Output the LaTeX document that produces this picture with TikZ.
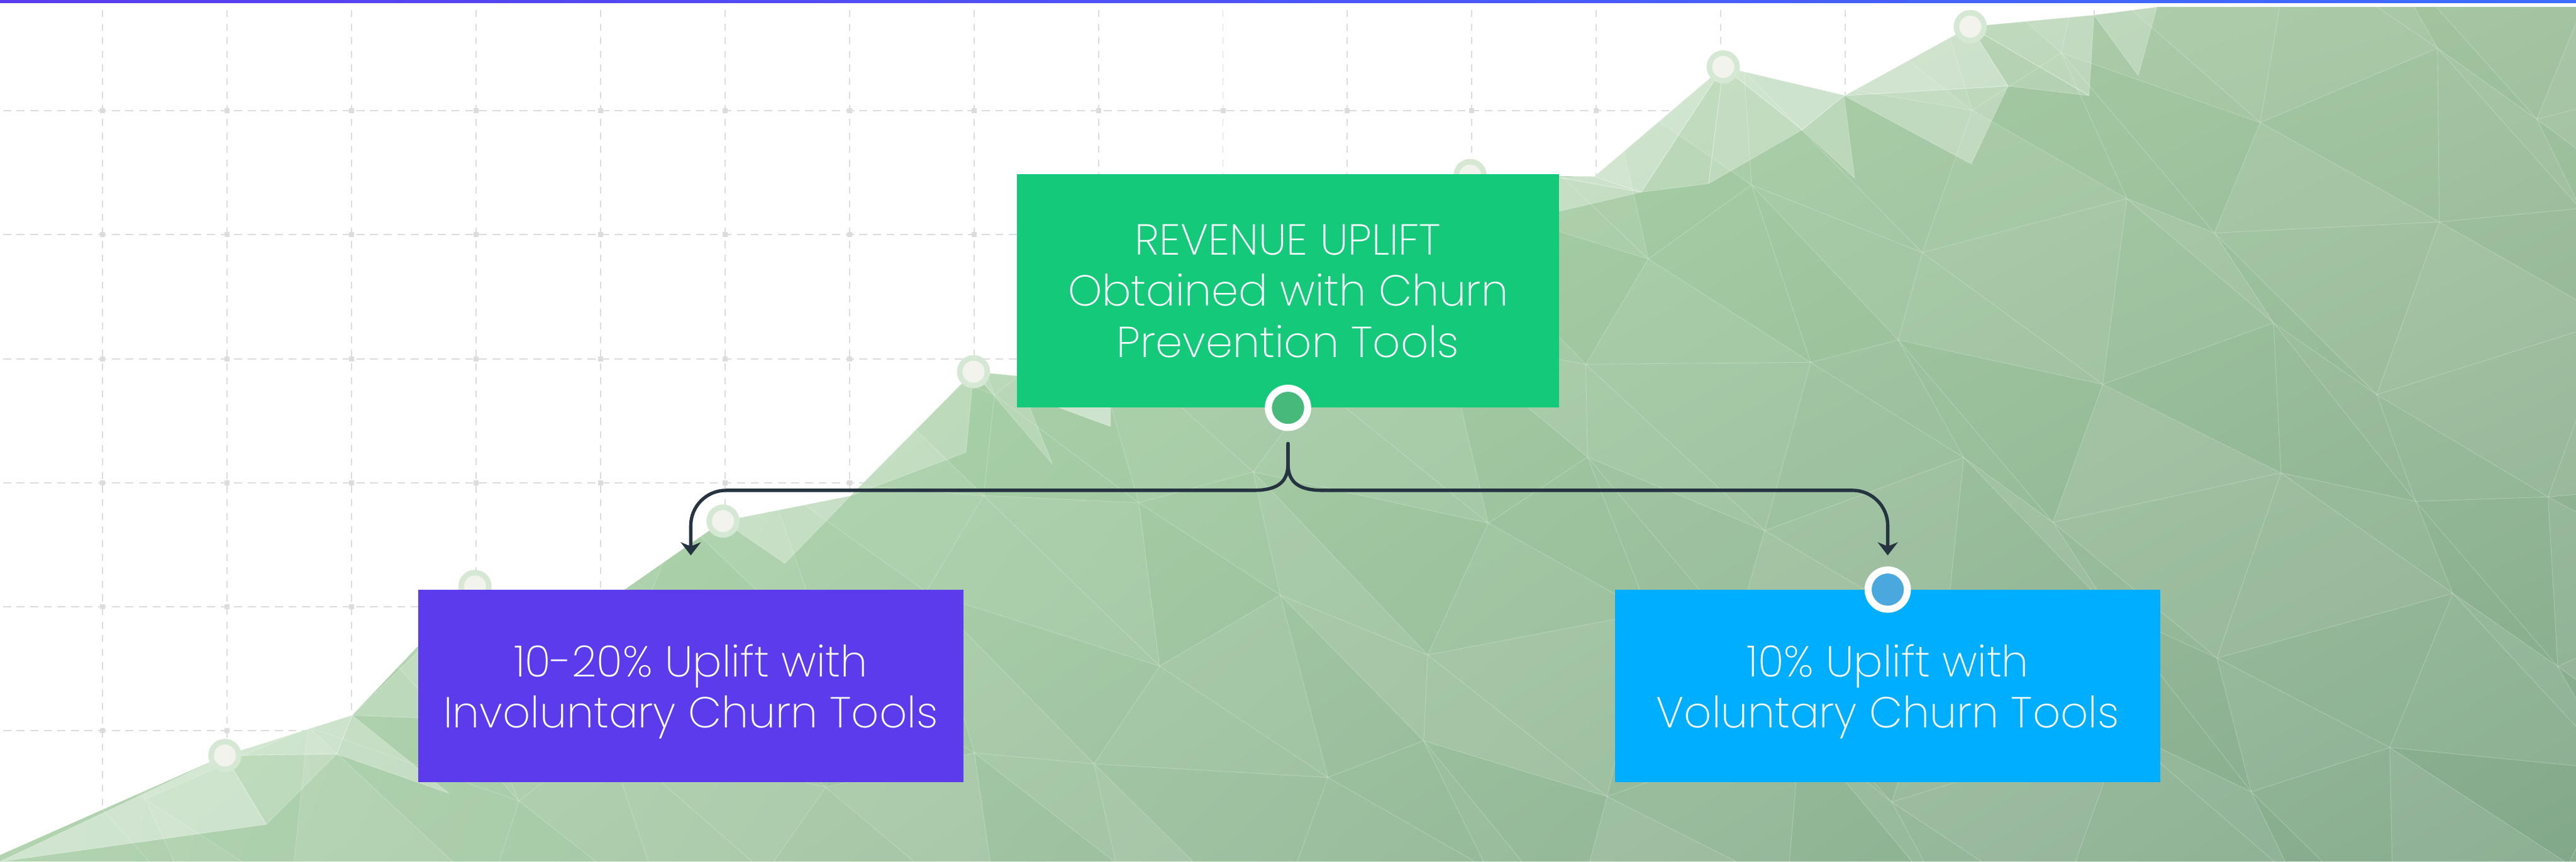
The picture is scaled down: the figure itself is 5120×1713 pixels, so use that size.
\documentclass[tikz,border=0pt]{standalone}
\usepackage{fontspec}
\setmainfont{Poppins}[UprightFont=* ExtraLight]
\usetikzlibrary{arrows.meta,shadings}

\definecolor{gridgray}{HTML}{DCDCDC}
\definecolor{upliftgreen}{HTML}{15C97B}
\definecolor{involpurple}{HTML}{5B3BEC}
\definecolor{volblue}{HTML}{00AEFF}
\definecolor{linknavy}{HTML}{263340}
\definecolor{dotgreen}{HTML}{47B97A}
\definecolor{dotblue}{HTML}{4AA8DE}
\definecolor{peakring}{HTML}{D5E8D3}
\definecolor{peakfill}{HTML}{F3F3EE}
\definecolor{barleft}{HTML}{5A3DEB}
\definecolor{barright}{HTML}{3D6DFF}
\definecolor{hillUL}{RGB}{180,230,174}
\definecolor{hillUR}{RGB}{160,194,158}
\definecolor{hillLL}{RGB}{178,212,176}
\definecolor{hillLR}{RGB}{130,168,138}

% jittered mesh points for the hill facets
\newcommand\meshx[2]{320*#1+80*sin(137*#1+251*#2)}
\newcommand\meshy[2]{270*#2-100+75*cos(199*#1+83*#2)}
\newcommand\hilloutline{(0,1700) -- (447,1502) -- (700,1422) -- (944,1166) -- (1130,1250)
	-- (1437,1036) -- (1690,986) -- (1935,739) -- (2150,760) -- (2430,560)
	-- (2650,600) -- (2922,349) -- (3169,351) -- (3425,133) -- (3667,190)
	-- (3916,53) -- (4162,30) -- (4287,14) -- (5120,14) -- (5120,1713)
	-- (0,1713) -- cycle}

\tikzset{gridline/.style={gridgray, line width=.7pt},
    toolbox/.style={inner sep=0pt, text=white, align=center, text depth=0pt,
        minimum width=10.83cm, minimum height=3.82cm,
        font=\fontsize{24.5}{29}\selectfont},
    pindot/.style={circle, draw=white, line width=.14cm, minimum size=.78cm, inner sep=0pt},
    peak/.style={circle, draw=peakring, fill=peakfill, line width=.11cm, minimum size=.55cm, inner sep=0pt},
    facet/.style={white, draw opacity=.15, line width=.3pt, line join=round},
    link/.style={linknavy, line width=1.9pt, line cap=round,
        -{Stealth[length=.26cm,width=.4cm,inset=.08cm]}},
    }

\begin{document}
\begin{tikzpicture}[x=0.01cm,y=-0.01cm]
	\useasboundingbox (0,0) rectangle (5120,1713);
	\fill[white] (0,0) rectangle (5120,1713);

	% dashed chart grid
	\foreach \k in {0,...,19}
		\draw[gridline, dash pattern=on .14cm off .13cm] (204+247.4*\k,20) -- (204+247.4*\k,1713);
	\foreach \k in {0,...,6}
		\draw[gridline, dash pattern=on .16cm off .11cm] (6,220+246.6*\k) -- (5120,220+246.6*\k);
	\foreach \i in {0,...,19}
		\foreach \k in {0,...,6}
			\fill[gridgray] (199+247.4*\i,215+246.6*\k) rectangle ++(10,10);

	% low-poly hill
	\shade[shading=bilinear interpolation, upper left=hillUL, upper right=hillUR,
		lower left=hillLL, lower right=hillLR] \hilloutline;
	\begin{scope}
		\clip \hilloutline;
		\foreach \i in {-1,...,16}
			\foreach \k in {0,...,7} {
				\pgfmathsetmacro\toneA{.05+.05*sin(311*\i+173*\k)}
				\pgfmathsetmacro\toneB{.05+.05*cos(227*\i+97*\k)}
				\filldraw[facet, fill opacity=\toneA]
					({\meshx{\i}{\k}},{\meshy{\i}{\k}}) -- ({\meshx{(\i+1)}{\k}},{\meshy{(\i+1)}{\k}})
					-- ({\meshx{(\i+1)}{(\k+1)}},{\meshy{(\i+1)}{(\k+1)}}) -- cycle;
				\filldraw[facet, fill opacity=\toneB]
					({\meshx{\i}{\k}},{\meshy{\i}{\k}}) -- ({\meshx{(\i+1)}{(\k+1)}},{\meshy{(\i+1)}{(\k+1)}})
					-- ({\meshx{\i}{(\k+1)}},{\meshy{\i}{(\k+1)}}) -- cycle;
			}
	\end{scope}
	\foreach \ax/\ay/\bx/\by/\cx/\cy/\tone in {
		0/1713/447/1502/529/1639/.40, 447/1502/700/1422/669/1499/.40,
		447/1502/669/1499/529/1639/.20, 669/1499/700/1422/892/1577/.30,
		700/1422/835/1291/832/1427/.20, 1437/1036/1690/986/1560/1120/.30,
		1690/986/1935/739/1920/899/.25, 1935/739/2021/747/2092/923/.20,
		2104/810/2207/848/2207/810/.45, 3099/353/3169/351/3262/382/.40,
		3099/353/3262/382/3099/420/.30, 3169/351/3425/133/3262/382/.45,
		3425/133/3396/365/3262/382/.25, 3425/133/3665/190/3582/258/.45,
		3425/133/3582/258/3396/365/.30, 3665/190/3916/53/3991/171/.45,
		3665/190/3991/171/3918/326/.30, 3582/258/3665/190/3686/354/.25,
		3916/53/4162/30/4152/190/.30, 3916/53/4152/190/3991/171/.20,
		4162/30/4287/14/4250/150/.25}
		\filldraw[facet, fill opacity=\tone, draw opacity=.3]
			(\ax,\ay) -- (\bx,\by) -- (\cx,\cy) -- cycle;

	\foreach \x/\y [count=\i] in {447/1502, 944/1166, 1437/1036, 1935/739, 2922/349, 3425/133, 3916/53}
		\node[peak] (peak\i) at (\x,\y) {};

	% boxes
	\node[toolbox, fill=upliftgreen, minimum width=10.78cm, minimum height=4.64cm] (revenue) at (2560,578)
		{REVENUE UPLIFT\\Obtained with Churn\\Prevention Tools};
	\node[toolbox, fill=involpurple] (involuntary) at (1373,1364) {10-20\% Uplift with\\Involuntary Churn Tools};
	\node[toolbox, fill=volblue] (voluntary) at (3752,1364) {10\% Uplift with\\Voluntary Churn Tools};

	\node[pindot, fill=dotgreen] (revdot) at (revenue.south) {};
	\node[pindot, fill=dotblue] (voldot) at (voluntary.north) {};
	\coordinate (invtip) at ([yshift=.68cm]involuntary.north);
	\coordinate (voltip) at ([yshift=.68cm]voluntary.north);

	\draw[link] ([yshift=-.25cm]revdot.south) -- ++(0,40) .. controls +(0,40) and +(45,0) .. ++(-70,53)
		[rounded corners=.7cm] -| (invtip);
	\draw[link] ([yshift=-.25cm]revdot.south) -- ++(0,40) .. controls +(0,40) and +(-45,0) .. ++(70,53)
		[rounded corners=.7cm] -| (voltip);

	\shade[left color=barleft, right color=barright] (0,0) rectangle (5120,6);
\end{tikzpicture}
\end{document}
